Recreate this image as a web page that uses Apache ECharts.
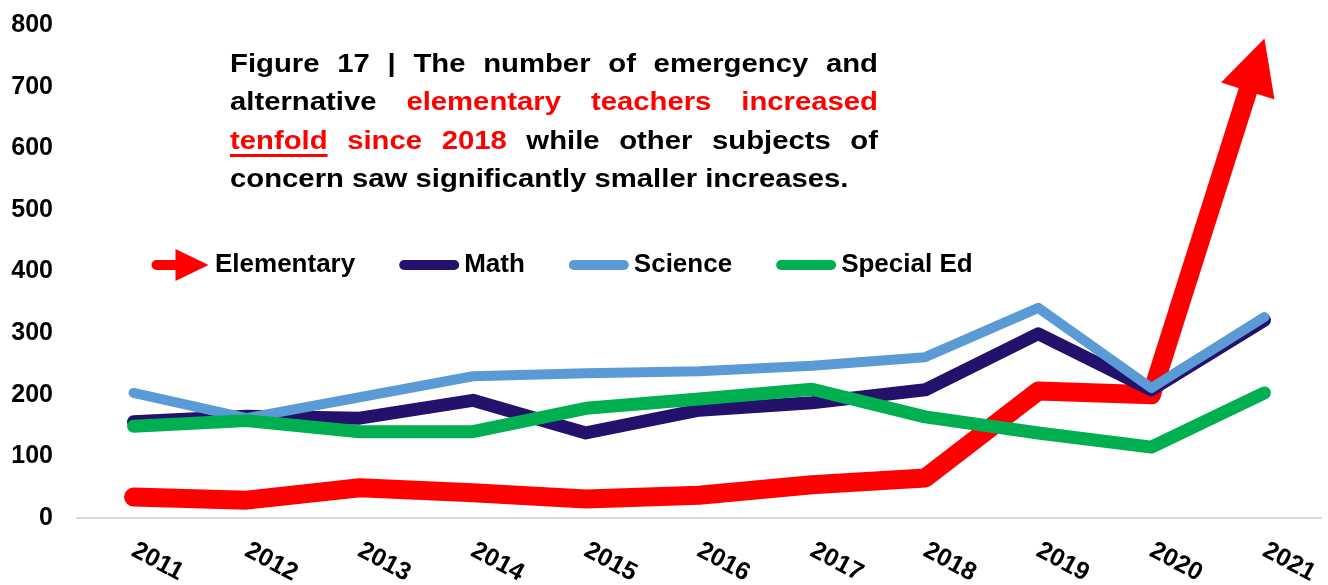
<!DOCTYPE html>
<html>
<head>
<meta charset="utf-8">
<script src="https://cdn.jsdelivr.net/npm/echarts@6/dist/echarts.min.js"></script>
<style>
  html, body { margin: 0; padding: 0; background: #ffffff; }
  #chart { width: 1328px; height: 585px; }
</style>
</head>
<body>
<div id="chart"></div>
<script>
// Emergency and alternative teacher counts by subject, 2011-2021
const years = ['2011', '2012', '2013', '2014', '2015', '2016', '2017', '2018', '2019', '2020', '2021'];
const elementary = [34, 29, 49, 41, 31, 37, 54, 65, 206, 200, 778];
const math = [156, 165, 162, 191, 138, 175, 187, 208, 299, 208, 321];
const science = [203, 162, 196, 230, 235, 238, 247, 261, 341, 211, 326];
const specialEd = [149, 158, 140, 140, 178, 193, 209, 164, 138, 115, 203];

const seriesNames = ['Elementary', 'Math', 'Science', 'Special Ed'];
const yMin = 0, yMax = 800, yStep = 100;

const RED = '#FF0000', NAVY = '#24116B', BLUE = '#5B9BD5', GREEN = '#00B050';
const FONT = '"Liberation Sans", Arial, sans-serif';

// Legend icons: an arrow for Elementary, rounded bars for the rest
const arrowIcon = 'path://M5,11 H24 V0 L57,16 L24,32 V21 H5 A5,5 0 0 1 5,11 Z';
const barIcon = 'path://M5,0 H55 A5,5 0 0 1 55,10 H5 A5,5 0 0 1 5,0 Z';

// Headline, word by word; red words and the underlined one are flagged
const headline = [
  { justify: true, words: [['Figure'], ['17'], ['|'], ['The'], ['number'], ['of'], ['emergency'], ['and']] },
  { justify: true, words: [['alternative'], ['elementary', 'r'], ['teachers', 'r'], ['increased', 'r']] },
  { justify: true, words: [['tenfold', 'ru'], ['since', 'r'], ['2018', 'r'], ['while'], ['other'], ['subjects'], ['of']] },
  { justify: false, words: [['concern'], ['saw'], ['significantly'], ['smaller'], ['increases.']] }
];

function buildHeadline() {
  const fontSize = 26.5;
  const font = 'bold ' + fontSize + 'px ' + FONT;
  const sx = 1.105;
  const boxW = 648 / sx;
  const baselines = [73.5, 112, 150.5, 189];
  const ctx = document.createElement('canvas').getContext('2d');
  ctx.font = font;
  const spaceW = ctx.measureText(' ').width;
  const children = [];
  headline.forEach((line, li) => {
    const widths = line.words.map(w => ctx.measureText(w[0]).width);
    const total = widths.reduce((a, b) => a + b, 0);
    const gap = line.justify ? (boxW - total) / (line.words.length - 1) : spaceW;
    let x = 0;
    const yMid = baselines[li] - 0.3465 * fontSize;
    line.words.forEach((w, i) => {
      const flags = w[1] || '';
      const color = flags.indexOf('r') >= 0 ? RED : '#000000';
      children.push({
        type: 'text', x: x, y: yMid,
        style: { text: w[0], font: font, fill: color, align: 'left', verticalAlign: 'middle' }
      });
      if (flags.indexOf('u') >= 0) {
        children.push({
          type: 'rect',
          shape: { x: x, y: baselines[li] + 3.5, width: widths[i], height: 3 },
          style: { fill: RED }
        });
      }
      x += widths[i] + gap;
    });
  });
  return [
    { type: 'group', x: 230, y: 0, scaleX: sx, children: children, z: 10 },
    // the text frame cuts off the last line's descenders
    { type: 'rect', shape: { x: 215, y: 193, width: 690, height: 10 }, style: { fill: '#ffffff' }, z: 11 }
  ];
}

function lineSeries(name, data, color, width) {
  return {
    type: 'line', name: name, data: data, color: color,
    symbol: 'none', silent: true,
    lineStyle: { color: color, width: width, cap: 'round', join: 'round' },
    itemStyle: { color: color },
    emphasis: { disabled: true }
  };
}

const last = elementary.length - 1;

const chart = echarts.init(document.getElementById('chart'), null, { renderer: 'canvas' });
chart.setOption({
  animation: false,
  backgroundColor: '#ffffff',
  textStyle: { fontFamily: FONT },
  grid: { left: 77, right: 7, top: 25, bottom: 67, outerBoundsMode: 'none', containLabel: false },
  xAxis: {
    type: 'category', data: years, boundaryGap: true,
    axisLine: { lineStyle: { color: '#D9D9D9', width: 2 } },
    axisTick: { show: false },
    axisLabel: { interval: 0, rotate: -28, margin: 31, fontSize: 25, fontWeight: 'bold', color: '#000000' },
    splitLine: { show: false }
  },
  yAxis: {
    type: 'value', min: yMin, max: yMax, interval: yStep,
    axisLine: { show: false }, axisTick: { show: false },
    splitLine: { show: false },
    axisLabel: { margin: 24, fontSize: 25, fontWeight: 'bold', color: '#000000' }
  },
  legend: {
    left: 151.5, top: 249, padding: 0,
    itemWidth: 60, itemHeight: 32, itemGap: 44,
    symbolKeepAspect: true,
    selectedMode: false,
    itemStyle: { borderWidth: 0 },
    textStyle: { fontSize: 26, fontWeight: 'bold', color: '#000000', fontFamily: FONT },
    data: [
      { name: seriesNames[0], icon: arrowIcon },
      { name: seriesNames[1], icon: barIcon },
      { name: seriesNames[2], icon: barIcon },
      { name: seriesNames[3], icon: barIcon }
    ]
  },
  graphic: buildHeadline(),
  series: [
    lineSeries(seriesNames[0], elementary.slice(0, last), RED, 19),
    {
      // final Elementary segment drawn as a thick arrow ending on the 2021 value
      type: 'custom', name: seriesNames[0], silent: true,
      data: [[last - 1, elementary[last - 1], elementary[last]]],
      encode: { x: 0, y: 1 },
      renderItem: function (params, api) {
        const i = api.value(0);
        const p0 = api.coord([i, api.value(1)]);
        const p1 = api.coord([i + 1, api.value(2)]);
        const dx = p1[0] - p0[0], dy = p1[1] - p0[1];
        const len = Math.sqrt(dx * dx + dy * dy);
        const ux = dx / len, uy = dy / len;
        const nx = -uy, ny = ux;
        const headLen = 55, halfW = 28;
        const bx = p1[0] - ux * headLen, by = p1[1] - uy * headLen;
        return {
          type: 'group',
          children: [
            {
              type: 'polyline',
              shape: { points: [p0, [bx + ux * 4, by + uy * 4]] },
              style: { stroke: RED, lineWidth: 19, lineCap: 'round', fill: null }
            },
            {
              type: 'polygon',
              shape: { points: [p1, [bx + nx * halfW, by + ny * halfW], [bx - nx * halfW, by - ny * halfW]] },
              style: { fill: RED }
            }
          ]
        };
      }
    },
    lineSeries(seriesNames[1], math, NAVY, 13),
    lineSeries(seriesNames[2], science, BLUE, 10),
    lineSeries(seriesNames[3], specialEd, GREEN, 13)
  ]
});
</script>
</body>
</html>
